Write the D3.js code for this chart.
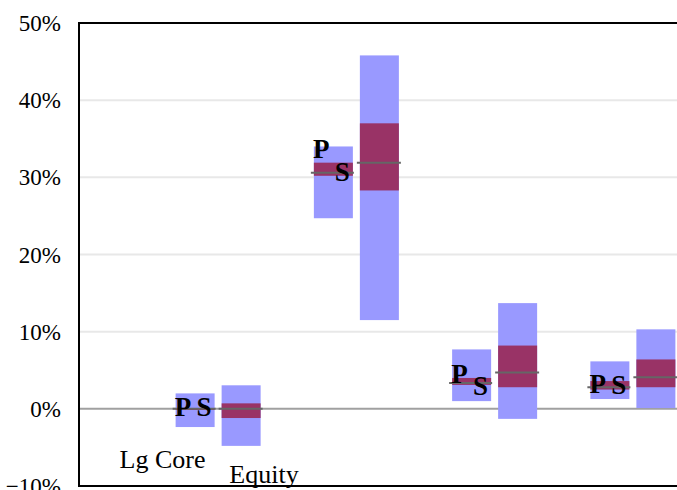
<!DOCTYPE html>
<html>
<head>
<meta charset="utf-8">
<script src="https://cdn.jsdelivr.net/npm/d3@7"></script>
<style>
  html, body { margin: 0; padding: 0; background: #fff; }
  svg { display: block; }
</style>
</head>
<body>
<div id="chart"></div>
<script>
// ---- data (percent) ----
const categories = ["Group 1", "Group 2", "Group 3", "Group 4"];
const pLow  = [-2.36, 24.7, 1.0, 1.27];
const pQ1   = [-0.15, 30.2, 3.1, 2.5];
const pMed  = [0.0, 30.6, 3.35, 2.8];
const pQ3   = [0.1, 31.9, 4.0, 3.6];
const pHigh = [2.0, 34.0, 7.7, 6.15];
const sLow  = [-4.8, 11.5, -1.3, 0.1];
const sQ1   = [-1.19, 28.3, 2.8, 2.8];
const sMed  = [0.0, 31.9, 4.7, 4.1];
const sQ3   = [0.71, 37.0, 8.2, 6.4];
const sHigh = [3.05, 45.8, 13.7, 10.3];
// label anchor values (percent) for the "P" and "S" markers
const pLabelAt = [0.2, 33.7, 4.55, 3.2];
const sLabelAt = [0.25, 30.7, 3.0, 3.1];
const yTicks = [-10, 0, 10, 20, 30, 40, 50];
const axisTexts = ["Lg Core", "Equity"];

// ---- layout ----
const W = 677, H = 490;
const plotL = 79, plotT = 23, plotB = 486, plotR = 702;
const svg = d3.select("#chart").append("svg").attr("width", W).attr("height", H);

const y = d3.scaleLinear().domain([-10, 50]).range([plotB, plotT]);
const x = d3.scaleBand().domain(categories).range([149, 702]).paddingInner(0).paddingOuter(0);
const barW = 39, gap = 7;
const cx = c => x(c) + x.bandwidth() / 2;
const pX = c => cx(c) - gap / 2 - barW;
const sX = c => cx(c) + gap / 2;

const serif = "'Liberation Serif', 'Times New Roman', serif";

// gridlines
svg.append("g").selectAll("line").data(yTicks.filter(t => t > 0 && t < 50)).join("line")
  .attr("x1", plotL).attr("x2", plotR)
  .attr("y1", d => y(d)).attr("y2", d => y(d))
  .attr("stroke", "#e8e8e8").attr("stroke-width", 2);

// zero line
svg.append("line").attr("x1", plotL).attr("x2", plotR)
  .attr("y1", y(0)).attr("y2", y(0))
  .attr("stroke", "#a0a0a0").attr("stroke-width", 2);

const data = categories.map((c, i) => ({
  c, pLow: pLow[i], pQ1: pQ1[i], pMed: pMed[i], pQ3: pQ3[i], pHigh: pHigh[i],
  sLow: sLow[i], sQ1: sQ1[i], sMed: sMed[i], sQ3: sQ3[i], sHigh: sHigh[i],
  pL: pLabelAt[i], sL: sLabelAt[i]
}));

const g = svg.append("g");
// outer ranges
g.selectAll("rect.pr").data(data).join("rect").attr("class", "pr")
  .attr("x", d => pX(d.c)).attr("width", barW)
  .attr("y", d => y(d.pHigh)).attr("height", d => y(d.pLow) - y(d.pHigh))
  .attr("fill", "#9999ff");
g.selectAll("rect.sr").data(data).join("rect").attr("class", "sr")
  .attr("x", d => sX(d.c)).attr("width", barW)
  .attr("y", d => y(d.sHigh)).attr("height", d => y(d.sLow) - y(d.sHigh))
  .attr("fill", "#9999ff");
// inner ranges
g.selectAll("rect.pq").data(data).join("rect").attr("class", "pq")
  .attr("x", d => pX(d.c)).attr("width", barW)
  .attr("y", d => y(d.pQ3)).attr("height", d => y(d.pQ1) - y(d.pQ3))
  .attr("fill", "#993366");
g.selectAll("rect.sq").data(data).join("rect").attr("class", "sq")
  .attr("x", d => sX(d.c)).attr("width", barW)
  .attr("y", d => y(d.sQ3)).attr("height", d => y(d.sQ1) - y(d.sQ3))
  .attr("fill", "#993366");
// medians
g.selectAll("line.pm").data(data).join("line").attr("class", "pm")
  .attr("x1", d => pX(d.c) - 3).attr("x2", d => pX(d.c) + barW + 1)
  .attr("y1", d => y(d.pMed)).attr("y2", d => y(d.pMed))
  .attr("stroke", "#666666").attr("stroke-width", 2);
g.selectAll("line.sm").data(data).join("line").attr("class", "sm")
  .attr("x1", d => sX(d.c) - 3).attr("x2", d => sX(d.c) + barW + 2)
  .attr("y1", d => y(d.sMed)).attr("y2", d => y(d.sMed))
  .attr("stroke", "#666666").attr("stroke-width", 2);

// P / S labels
g.selectAll("text.pl").data(data).join("text").attr("class", "pl")
  .attr("x", d => pX(d.c) - 1).attr("y", d => y(d.pL) + 9)
  .attr("font-family", serif).attr("font-weight", "bold").attr("font-size", 27)
  .attr("fill", "#000").text("P");
g.selectAll("text.sl").data(data).join("text").attr("class", "sl")
  .attr("x", d => pX(d.c) + barW - 3).attr("y", d => y(d.sL) + 9)
  .attr("text-anchor", "end")
  .attr("font-family", serif).attr("font-weight", "bold").attr("font-size", 27)
  .attr("fill", "#000").text("S");

// plot frame
svg.append("rect").attr("x", plotL).attr("y", plotT)
  .attr("width", plotR - plotL).attr("height", plotB - plotT)
  .attr("fill", "none").attr("stroke", "#000").attr("stroke-width", 2);

// y tick labels
svg.append("g").selectAll("text").data(yTicks).join("text")
  .attr("x", 61).attr("y", d => y(d) + 8)
  .attr("text-anchor", "end")
  .attr("font-family", serif).attr("font-size", 23).attr("fill", "#000")
  .text(d => d3.format("d")(d) + "%");

// category texts
svg.append("text").attr("x", 162.5).attr("y", 468).attr("text-anchor", "middle")
  .attr("font-family", serif).attr("font-size", 26).attr("fill", "#000").text(axisTexts[0]);
svg.append("text").attr("x", 264).attr("y", 483).attr("text-anchor", "middle")
  .attr("font-family", serif).attr("font-size", 26).attr("fill", "#000").text(axisTexts[1]);
</script>
</body>
</html>
